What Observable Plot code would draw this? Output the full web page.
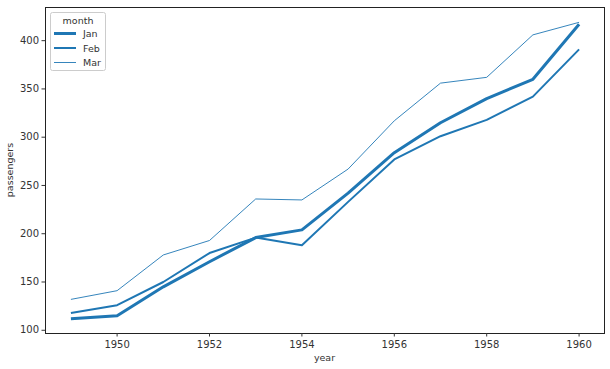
<!DOCTYPE html>
<html><head><meta charset="utf-8">
<script src="https://cdn.jsdelivr.net/npm/d3@7"></script>
<script src="https://cdn.jsdelivr.net/npm/@observablehq/plot@0.6"></script>
<style>
body{margin:0;background:#fff;}
svg{font-family:"DejaVu Sans",sans-serif;}
</style></head><body>
<div id="chart"></div>
<script>
const years = [1949,1950,1951,1952,1953,1954,1955,1956,1957,1958,1959,1960];
const months = ["Jan","Feb","Mar"];
const jan = [112,115,145,171,196,204,242,284,315,340,360,417];
const feb = [118,126,150,180,196,188,233,277,301,318,342,391];
const mar = [132,141,178,193,236,235,267,317,356,362,406,419];
const xTicks = [1950,1952,1954,1956,1958,1960];
const yTicks = [100,150,200,250,300,350,400];
const widths = {Jan:3, Feb:2, Mar:0.9};
const color = "#1f77b4";

const series = {Jan:jan, Feb:feb, Mar:mar};
const data = months.flatMap(m => years.map((y,i) => ({year:y, month:m, passengers:series[m][i]})));

const plot = Plot.plot({
  width:610, height:369,
  marginLeft:45, marginRight:6, marginTop:7, marginBottom:36,
  style:{fontSize:"10px", fontFamily:"DejaVu Sans, sans-serif", color:"#333"},
  x:{domain:[1948.45,1960.55], ticks:xTicks, tickFormat:d=>String(d), tickSize:3.5, label:null},
  y:{domain:[96.65,434.35], ticks:yTicks, tickSize:3.5, label:null},
  marks:[
    ...months.map(m => Plot.line(data.filter(d=>d.month===m), {x:"year", y:"passengers", stroke:color, strokeWidth:widths[m], strokeLinejoin:"round", strokeLinecap:"butt"})),
    Plot.frame({stroke:"#222", strokeWidth:1}),
    Plot.axisX({ticks:xTicks, tickFormat:d=>String(d), tickSize:3.5, tickPadding:4, label:null, fill:"#333"}),
    Plot.axisY({ticks:yTicks, tickSize:3.5, tickPadding:3, label:null, fill:"#333"})
  ]
});
document.getElementById("chart").appendChild(plot);

const svg = d3.select(plot);
svg.append("text").attr("x",(45+604)/2).attr("y",361).attr("text-anchor","middle").attr("font-size","9.5px").attr("fill","#333").text("year");
svg.append("text").attr("transform","translate(13,170) rotate(-90)").attr("text-anchor","middle").attr("font-size","9.5px").attr("fill","#333").text("passengers");

const lg = svg.append("g").attr("text-anchor","start");
lg.append("rect").attr("x",50.5).attr("y",12.5).attr("width",55).attr("height",58).attr("rx",2).attr("fill","#fff").attr("fill-opacity",0.8).attr("stroke","#ccc");
lg.append("text").attr("x",78).attr("y",24).attr("text-anchor","middle").attr("font-size","9.5px").attr("fill","#333").text("month");
months.forEach((m,i)=>{
  const yy = 33.5 + i*14.5;
  lg.append("line").attr("x1",54).attr("x2",76).attr("y1",yy).attr("y2",yy).attr("stroke",color).attr("stroke-width",widths[m]);
  lg.append("text").attr("x",83).attr("y",yy+3.5).attr("text-anchor","start").attr("font-size","9.5px").attr("fill","#333").text(m);
});
</script>
</body></html>
